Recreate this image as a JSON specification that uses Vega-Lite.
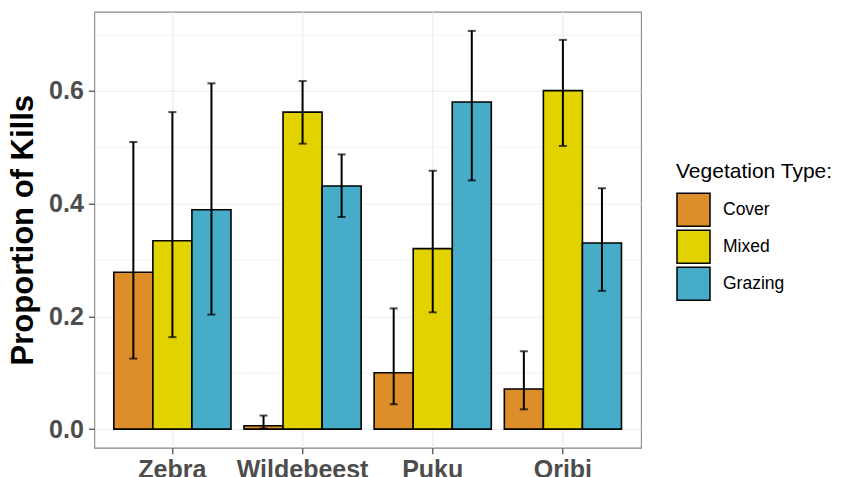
{
  "$schema": "https://vega.github.io/schema/vega-lite/v6.json",
  "width": 546.7,
  "height": 436,
  "autosize": {"type": "none"},
  "padding": {"left": 94.3, "top": 11.7, "right": 200, "bottom": 29.3},
  "background": "white",
  "config": {
    "view": {"stroke": "#888888", "strokeWidth": 1.1},
    "font": "Liberation Sans"
  },
  "data": {
    "values": [
      {"species": "Zebra", "type": "Cover", "prop": 0.278, "lo": 0.125, "hi": 0.509},
      {"species": "Zebra", "type": "Mixed", "prop": 0.334, "lo": 0.163, "hi": 0.562},
      {"species": "Zebra", "type": "Grazing", "prop": 0.389, "lo": 0.203, "hi": 0.613},
      {"species": "Wildebeest", "type": "Cover", "prop": 0.006, "lo": 0.001, "hi": 0.024},
      {"species": "Wildebeest", "type": "Mixed", "prop": 0.562, "lo": 0.506, "hi": 0.617},
      {"species": "Wildebeest", "type": "Grazing", "prop": 0.431, "lo": 0.376, "hi": 0.487},
      {"species": "Puku", "type": "Cover", "prop": 0.100, "lo": 0.044, "hi": 0.214},
      {"species": "Puku", "type": "Mixed", "prop": 0.320, "lo": 0.207, "hi": 0.458},
      {"species": "Puku", "type": "Grazing", "prop": 0.580, "lo": 0.441, "hi": 0.706},
      {"species": "Oribi", "type": "Cover", "prop": 0.071, "lo": 0.035, "hi": 0.138},
      {"species": "Oribi", "type": "Mixed", "prop": 0.600, "lo": 0.502, "hi": 0.690},
      {"species": "Oribi", "type": "Grazing", "prop": 0.330, "lo": 0.245, "hi": 0.427}
    ]
  },
  "encoding": {
    "x": {
      "field": "species",
      "type": "nominal",
      "sort": ["Zebra", "Wildebeest", "Puku", "Oribi"],
      "scale": {"paddingInner": 0.1, "paddingOuter": 0.15, "round": false},
      "axis": {
        "title": null,
        "labelAngle": 0,
        "labelFont": "Liberation Sans",
        "labelFontSize": 25,
        "labelFontWeight": "bold",
        "labelColor": "#4D4D4D",
        "labelPadding": 4,
        "tickColor": "#333333",
        "tickWidth": 1.1,
        "tickSize": 6,
        "domain": false,
        "grid": true,
        "gridColor": "#EBEBEB",
        "gridWidth": 1.1
      }
    },
    "xOffset": {
      "field": "type",
      "type": "nominal",
      "sort": ["Cover", "Mixed", "Grazing"],
      "scale": {"paddingInner": 0, "paddingOuter": 0}
    }
  },
  "layer": [
    {
      "mark": {"type": "bar", "stroke": "black", "strokeWidth": 1.6},
      "encoding": {
        "y": {
          "field": "prop",
          "type": "quantitative",
          "scale": {"domain": [-0.033, 0.74], "nice": false, "zero": false},
          "axis": {
            "title": "Proportion of Kills",
            "titleFont": "Liberation Sans",
            "titleFontSize": 31,
            "titleFontWeight": "bold",
            "titleColor": "black",
            "titlePadding": 9,
            "values": [0, 0.1, 0.2, 0.3, 0.4, 0.5, 0.6, 0.7],
            "labelExpr": "round(datum.value*10) % 2 === 0 ? format(datum.value, '.1f') : ''",
            "labelFont": "Liberation Sans",
            "labelFontSize": 25,
            "labelFontWeight": "bold",
            "labelColor": "#4D4D4D",
            "labelPadding": 5,
            "tickColor": "#333333",
            "tickWidth": 1.1,
            "tickSize": 6,
            "tickOpacity": {"condition": {"test": "round(datum.value*10) % 2 === 1", "value": 0}, "value": 1},
            "domain": false,
            "grid": true,
            "gridColor": "#EBEBEB",
            "gridWidth": {"condition": {"test": "round(datum.value*10) % 2 === 1", "value": 0.6}, "value": 1.1}
          }
        },
        "fill": {
          "field": "type",
          "type": "nominal",
          "sort": ["Cover", "Mixed", "Grazing"],
          "scale": {"domain": ["Cover", "Mixed", "Grazing"], "range": ["#DD8D29", "#E2D200", "#46ACC8"]},
          "legend": {
            "title": "Vegetation Type:",
            "orient": "none",
            "legendX": 581.7,
            "legendY": 149.5,
            "padding": 0,
            "titleFont": "Liberation Sans",
            "titleFontSize": 21,
            "titleFontWeight": "normal",
            "titleColor": "black",
            "titlePadding": 10,
            "labelFont": "Liberation Sans",
            "labelFontSize": 17.5,
            "labelColor": "black",
            "labelOffset": 12,
            "symbolType": "square",
            "symbolSize": 1089,
            "symbolStrokeColor": "black",
            "symbolStrokeWidth": 1.5,
            "symbolOpacity": 1,
            "symbolFillOpacity": 1,
            "rowPadding": -4
          }
        }
      }
    },
    {
      "mark": {"type": "rule", "color": "black", "strokeWidth": 2},
      "encoding": {
        "y": {"field": "lo", "type": "quantitative"},
        "y2": {"field": "hi"}
      }
    },
    {
      "mark": {"type": "tick", "color": "black", "size": 8, "thickness": 2},
      "encoding": {
        "y": {"field": "lo", "type": "quantitative"}
      }
    },
    {
      "mark": {"type": "tick", "color": "black", "size": 8, "thickness": 2},
      "encoding": {
        "y": {"field": "hi", "type": "quantitative"}
      }
    }
  ]
}
